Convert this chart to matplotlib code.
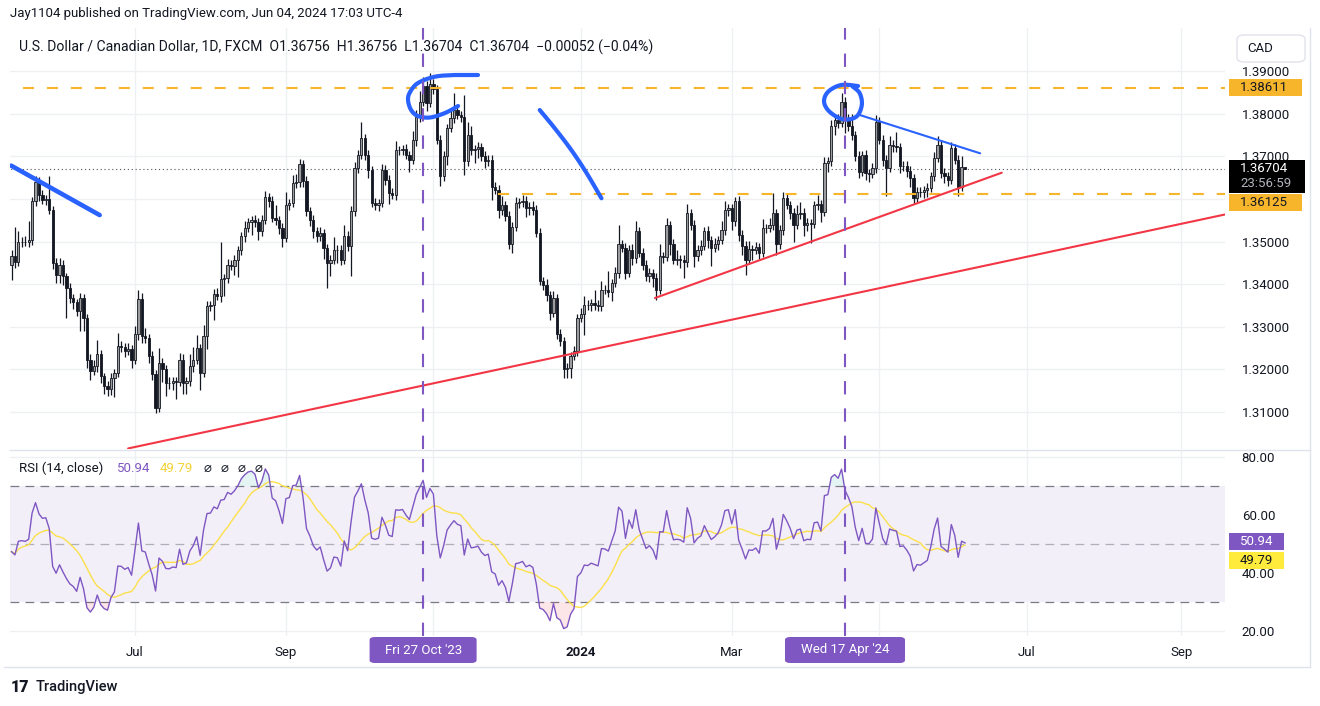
import numpy as np
import pandas as pd
import matplotlib
matplotlib.use('Agg')
import matplotlib.pyplot as plt
from matplotlib.patches import Rectangle, FancyBboxPatch
from matplotlib.lines import Line2D

plt.rcParams['font.family'] = ['Roboto', 'DejaVu Sans']

# ---- daily closes USD/CAD, last bar = Jun 05 2024 ----
close = [
    1.3465, 1.3453, 1.3498, 1.3500, 1.3498, 1.3504, 1.3594, 1.3639, 1.3610, 1.3598,
    1.3600, 1.3573, 1.3450, 1.3422, 1.3446, 1.3418, 1.3391, 1.3368, 1.3357, 1.3336,
    1.3368, 1.3321, 1.3223, 1.3196, 1.3207, 1.3235, 1.3184, 1.3162, 1.3153, 1.3180,
    1.3192, 1.3254, 1.3253, 1.3243, 1.3247, 1.3223, 1.3282, 1.3365, 1.3278, 1.3274,
    1.3231, 1.3188, 1.3110, 1.3215, 1.3200, 1.3168, 1.3167, 1.3172,
    1.3170, 1.3223, 1.3168, 1.3172, 1.3207, 1.3223, 1.3250, 1.3192, 1.3278, 1.3348,
    1.3350, 1.3378, 1.3373, 1.3411, 1.3414, 1.3446, 1.3442, 1.3457, 1.3479, 1.3512,
    1.3532, 1.3546, 1.3550, 1.3545, 1.3524, 1.3550, 1.3604, 1.3594, 1.3555, 1.3550,
    1.3532, 1.3508, 1.3586, 1.3590, 1.3637, 1.3639, 1.3682, 1.3641, 1.3571, 1.3551,
    1.3524, 1.3512, 1.3520, 1.3485, 1.3450, 1.3457, 1.3481, 1.3479, 1.3457, 1.3514,
    1.3489, 1.3571, 1.3672, 1.3703, 1.3742, 1.3703, 1.3668, 1.3590, 1.3586, 1.3590,
    1.3668, 1.3645, 1.3614, 1.3610, 1.3715, 1.3714, 1.3717, 1.3703, 1.3692, 1.3739,
    1.3793, 1.3828, 1.3865, 1.3826, 1.3870, 1.3857, 1.3739, 1.3653, 1.3700, 1.3766,
    1.3789, 1.3809, 1.3797, 1.3793, 1.3688, 1.3750, 1.3715, 1.3717, 1.3721, 1.3700,
    1.3688, 1.3692, 1.3629, 1.3621, 1.3575, 1.3586, 1.3559, 1.3493, 1.3535, 1.3590,
    1.3592, 1.3596, 1.3578, 1.3582, 1.3575, 1.3520, 1.3407, 1.3399, 1.3375, 1.3332,
    1.3368, 1.3282, 1.3266, 1.3200, 1.3204, 1.3231, 1.3243, 1.3321, 1.3331, 1.3352,
    1.3350, 1.3356,
    1.3352, 1.3348, 1.3387, 1.3386, 1.3381, 1.3403, 1.3426, 1.3493, 1.3485, 1.3426,
    1.3481, 1.3461, 1.3524, 1.3473, 1.3446, 1.3418, 1.3426, 1.3414, 1.3387, 1.3465,
    1.3464, 1.3539, 1.3493, 1.3457, 1.3459, 1.3457, 1.3451, 1.3567, 1.3539, 1.3465,
    1.3481, 1.3489, 1.3524, 1.3504, 1.3485, 1.3493, 1.3504, 1.3528, 1.3575, 1.3578,
    1.3547, 1.3594, 1.3516, 1.3489, 1.3457, 1.3482, 1.3481, 1.3487, 1.3473, 1.3532,
    1.3532, 1.3539, 1.3567, 1.3493, 1.3528, 1.3602, 1.3586, 1.3567, 1.3539, 1.3565,
    1.3568, 1.3539, 1.3543, 1.3542, 1.3586, 1.3588, 1.3570, 1.3684, 1.3688, 1.3770,
    1.3785, 1.3778, 1.3828, 1.3785, 1.3770, 1.3750, 1.3700, 1.3664, 1.3703, 1.3660,
    1.3659, 1.3672, 1.3781, 1.3739, 1.3692, 1.3672, 1.3727, 1.3723, 1.3721, 1.3676,
    1.3678, 1.3666, 1.3649, 1.3602, 1.3617, 1.3615, 1.3620,
    1.3625, 1.3653, 1.3696, 1.3727, 1.3660, 1.3653, 1.3645, 1.3719, 1.3692, 1.3629,
    1.36756, 1.36704,
]
first_open = 1.3445

# wick lengths above / below the body, in pips
upper_wick = [
    16, 70, 26, 10, 12, 43, 10, 14, 12, 10,
    8, 53, 10, 12, 15, 10, 8, 12, 10, 8,
    12, 10, 10, 12, 15, 35, 10, 8, 10, 12,
    10, 31, 12, 10, 15, 10, 20, 22, 15, 18,
    10, 12, 10, 35, 12, 10, 15, 10,
    10, 15, 12, 10, 30, 30, 30, 10, 25, 12,
    10, 10, 12, 88, 10, 12, 10, 12, 10, 10,
    15, 10, 10, 12, 10, 12, 15, 10, 12, 30,
    10, 12, 30, 10, 20, 20, 11, 10, 12, 10,
    12, 10, 15, 10, 10, 12, 30, 10, 12, 25,
    10, 12, 15, 12, 39, 10, 12, 10, 12, 10,
    15, 12, 10, 12, 20, 10, 10, 12, 10, 20,
    15, 25, 20, 12, 25, 12, 10, 10, 12, 10,
    20, 40, 12, 10, 51, 30, 20, 10, 12, 10,
    12, 10, 12, 10, 12, 20, 10, 12, 10, 15,
    10, 12, 10, 10, 12, 10, 12, 10, 12, 10,
    15, 10, 12, 10, 12, 10, 12, 10, 12, 20,
    10, 10,
    30, 10, 20, 10, 45, 10, 15, 45, 10, 12,
    10, 12, 25, 10, 12, 10, 12, 10, 12, 30,
    10, 15, 10, 12, 20, 10, 12, 20, 10, 12,
    10, 15, 10, 12, 10, 15, 10, 20, 20, 10,
    10, 10, 12, 10, 12, 20, 10, 12, 10, 20,
    10, 15, 47, 10, 10, 15, 12, 10, 12, 20,
    25, 10, 12, 10, 10, 20, 10, 15, 10, 15,
    12, 15, 20, 10, 15, 30, 10, 12, 10, 12,
    10, 12, 15, 10, 12, 10, 20, 10, 35, 10,
    12, 10, 12, 10, 10, 12, 10,
    12, 10, 15, 20, 10, 12, 10, 15, 10, 12,
    25, 0,
]
lower_wick = [
    35, 15, 10, 12, 8, 10, 12, 10, 15, 10,
    12, 8, 15, 20, 20, 20, 70, 12, 15, 10,
    47, 30, 20, 20, 10, 12, 15, 20, 16, 12,
    45, 10, 12, 15, 10, 20, 10, 12, 15, 12,
    15, 12, 12, 10, 30, 30, 12, 15,
    40, 10, 25, 25, 10, 12, 10, 40, 10, 30,
    12, 35, 10, 15, 40, 12, 10, 20, 40, 10,
    12, 10, 30, 10, 20, 12, 10, 12, 10, 12,
    15, 20, 10, 12, 10, 12, 10, 12, 10, 15,
    15, 12, 10, 25, 60, 30, 10, 30, 12, 10,
    12, 70, 10, 12, 10, 12, 20, 10, 12, 15,
    10, 12, 25, 10, 12, 10, 12, 10, 30, 10,
    15, 12, 10, 20, 10, 12, 10, 23, 12, 20,
    10, 12, 10, 12, 32, 10, 12, 30, 20, 10,
    15, 12, 31, 10, 20, 12, 10, 10, 20, 10,
    12, 10, 20, 15, 12, 10, 10, 12, 15, 15,
    10, 10, 12, 20, 20, 25, 10, 12, 10, 50,
    10, 12,
    12, 10, 12, 10, 12, 20, 10, 12, 10, 15,
    10, 15, 12, 10, 12, 10, 12, 20, 25, 10,
    15, 10, 25, 10, 12, 20, 37, 10, 12, 25,
    10, 12, 10, 20, 43, 10, 12, 10, 12, 15,
    20, 10, 15, 20, 35, 10, 25, 10, 15, 10,
    12, 10, 12, 25, 10, 12, 10, 15, 40, 10,
    12, 25, 15, 45, 10, 12, 25, 10, 20, 10,
    20, 12, 10, 30, 10, 12, 10, 15, 10, 15,
    20, 10, 12, 10, 15, 66, 10, 12, 10, 15,
    10, 15, 20, 15, 10, 10, 12,
    15, 10, 12, 10, 10, 15, 15, 10, 10, 23,
    10, 0,
]
last_day = '2024-06-05'

# RSI averages carried in from before the visible window (estimated)
rsi_seed_gain = 0.0018
rsi_seed_loss = 0.0020

price_ticks = [1.31, 1.32, 1.33, 1.34, 1.35, 1.36, 1.37, 1.38, 1.39]
rsi_ticks = [20, 40, 60, 80]
months = ['2023-07', '2023-09', '2023-11', '2024-01', '2024-03', '2024-05', '2024-07', '2024-09']
month_text = ['Jul', 'Sep', '', '2024', 'Mar', '', 'Jul', 'Sep']
marked_days = ['2023-10-27', '2024-04-17']
marked_text = ["Fri 27 Oct '23", "Wed 17 Apr '24"]
marked_width_px = [107, 120]

header = ('U.S. Dollar / Canadian Dollar, 1D, FXCM  O1.36756  H1.36756  L1.36704  C1.36704  '
          '\u22120.00052 (\u22120.04%)')

level_high = 1.38611
level_low = 1.36125
level_low_from = 141.8
last_price = 1.36704
countdown = '23:56:59'
rsi_last, rsi_ma_last = 50.94, 49.79

# hand drawings: (bar, price) anchors
blue_line_left = [(-0.1, 1.3678), (25.7, 1.3562)]
blue_oval_oct = [(136.0, 1.38906), (129.3, 1.38906), (123.4, 1.38866), (118.5, 1.38718),
                 (116.2, 1.38507), (115.6, 1.38320), (116.5, 1.38085), (118.5, 1.37944),
                 (122.0, 1.37909), (126.4, 1.38015), (130.2, 1.38179)]
blue_arc = [(154.0, 1.38085), (158.4, 1.37655), (163.2, 1.37147), (167.6, 1.36614), (172.0, 1.36014)]
blue_oval_apr = [(246.8, 1.38648), (241.9, 1.38672), (238.1, 1.38514), (236.9, 1.38280),
                 (238.5, 1.38045), (242.4, 1.37867), (246.3, 1.37928), (247.9, 1.38202),
                 (247.3, 1.38477), (245.3, 1.38632)]
blue_upper_trend = [(247.3, 1.37968), (282.4, 1.37069)]
red_long_trend = [(34.0, 1.30145), (353.8, 1.35634)]
red_short_trend = [(187.6, 1.33674), (288.7, 1.36614)]

assert len(close) == len(upper_wick) == len(lower_wick), (len(close), len(upper_wick), len(lower_wick))

# ---- derived ----
close = np.array(close)
n = len(close)
opens = np.r_[first_open, close[:-1]]
high = np.maximum(opens, close) + np.array(upper_wick) * 1e-4
low = np.minimum(opens, close) - np.array(lower_wick) * 1e-4
x = np.arange(n)
dates = pd.bdate_range(end=last_day, periods=n)
cal = pd.bdate_range(start=dates[0], periods=n + 90)
cal_ym = cal.strftime('%Y-%m')
month_pos = [int(np.argmax(cal_ym == m)) for m in months]
marked_pos = [cal.get_loc(pd.Timestamp(d)) for d in marked_days]

# RSI(14) with Wilder smoothing + its 14 SMA
g, l = rsi_seed_gain, rsi_seed_loss
rsi = np.empty(n)
rsi[0] = 100 - 100 / (1 + g / l)
for i in range(1, n):
    d = close[i] - close[i - 1]
    g = (g * 13 + max(d, 0)) / 14
    l = (l * 13 + max(-d, 0)) / 14
    rsi[i] = 100 - 100 / (1 + g / l)
rsi_ma = pd.Series(rsi).rolling(14, min_periods=1).mean().values


def smooth(pts, k=14):
    # catmull-rom through the stroke anchors
    pts = np.asarray(pts, float)
    P = np.vstack([pts[0], pts, pts[-1]])
    out = []
    t = np.linspace(0, 1, k, endpoint=False)[:, None]
    for i in range(1, len(P) - 2):
        p0, p1, p2, p3 = P[i - 1], P[i], P[i + 1], P[i + 2]
        out.append(0.5 * (2 * p1 + (-p0 + p2) * t + (2 * p0 - 5 * p1 + 4 * p2 - p3) * t ** 2
                          + (-p0 + 3 * p1 - 3 * p2 + p3) * t ** 3))
    out.append(P[-2][None])
    return np.vstack(out)


# ---- figure ----
W, H = 1320, 706
fig = plt.figure(figsize=(W / 100, H / 100), dpi=100)
fig.patch.set_facecolor('white')
TXT = '#131722'
GRID = '#eef0f4'
PURPLE = '#7e57c2'
ORANGE = '#f7b52c'
BLUE = '#2962ff'
RED = '#f23645'


def fx(px):
    return px / W


def fy(py):
    return 1 - py / H


ax_p = fig.add_axes([fx(10), fy(449), 1215 / W, 421 / H])
ax_r = fig.add_axes([fx(10), fy(636), 1215 / W, 186 / H], sharex=ax_p)

xmin, xmax = (10 - 11.5) / 3.43, (1225 - 11.5) / 3.43
ax_p.set_xlim(xmin, xmax)
ax_p.set_ylim(1.30132, 1.40009)
ax_r.set_ylim(18.3, 82.4)

for ax in (ax_p, ax_r):
    for s in ax.spines.values():
        s.set_visible(False)
    ax.grid(True, color=GRID, lw=1)
    ax.set_axisbelow(True)
    ax.yaxis.tick_right()
    ax.tick_params(axis='y', length=0, pad=12, labelsize=9.5, colors=TXT)
    ax.tick_params(axis='x', length=0)

ax_p.set_yticks(price_ticks, [f'{v:.5f}' for v in price_ticks])
ax_r.set_yticks(rsi_ticks, [f'{v:.2f}' for v in rsi_ticks])
ax_r.set_xticks(month_pos, month_text)
ax_p.tick_params(labelbottom=False)
ax_r.tick_params(axis='x', pad=7, labelsize=9.5, colors=TXT)
for lab in ax_r.get_xticklabels():
    if lab.get_text() == '2024':
        lab.set_fontweight('bold')

# candles
up = close >= opens
ax_p.vlines(x, low, high, color=TXT, lw=0.9, zorder=2)
ax_p.bar(x[up], (close - opens)[up], bottom=opens[up], width=0.66,
         color='#9c9c9c', edgecolor=TXT, linewidth=0.6, zorder=3)
ax_p.bar(x[~up], (opens - close)[~up], bottom=close[~up], width=0.66,
         color=TXT, edgecolor=TXT, linewidth=0.6, zorder=3)

# horizontal levels
ax_p.plot([xmin - 5, xmax + 5], [level_high, level_high], color=ORANGE, lw=1.5, dashes=(5.3, 6.2), zorder=4)
ax_p.plot([level_low_from, xmax + 5], [level_low, level_low], color=ORANGE, lw=1.5, dashes=(5.3, 6.2), zorder=4)
ax_p.plot([xmin - 5, xmax + 5], [last_price, last_price], color='#50535e', lw=0.8, dashes=(1, 2.5), zorder=1)

# trend lines and drawings
for pts, c in [(red_long_trend, RED), (red_short_trend, RED), (blue_upper_trend, BLUE)]:
    xs, ys = zip(*pts)
    ax_p.plot(xs, ys, color=c, lw=1.5, zorder=5, solid_capstyle='round')
xs, ys = zip(*blue_line_left)
ax_p.plot(xs, ys, color=BLUE, lw=3.3, zorder=6, solid_capstyle='round')
for pts in (blue_oval_oct, blue_arc, blue_oval_apr):
    s = smooth(pts)
    ax_p.plot(s[:, 0], s[:, 1], color=BLUE, lw=3.0, zorder=6, solid_capstyle='round', solid_joinstyle='round')

# marked dates
for ax in (ax_p, ax_r):
    for p in marked_pos:
        ax.axvline(p, color=PURPLE, lw=1.5, dashes=(6.4, 6.7), zorder=7)

# RSI pane
ax_r.axhspan(30, 70, color=PURPLE, alpha=0.09, lw=0, zorder=0)
for lvl, a in [(70, 1.0), (50, 0.55), (30, 1.0)]:
    ax_r.axhline(lvl, color='#787b86', lw=0.9, dashes=(7, 5), alpha=a, zorder=1)
ax_r.fill_between(x, rsi, 70, where=rsi > 70, interpolate=True, color='#26a69a', alpha=0.12, lw=0)
ax_r.fill_between(x, rsi, 30, where=rsi < 30, interpolate=True, color='#f23645', alpha=0.12, lw=0)
ax_r.plot(x, rsi_ma, color='#fbe04a', lw=1.0, zorder=3)
ax_r.plot(x, rsi, color=PURPLE, lw=1.0, zorder=4)


# ---- axis tags ----
def ypix(ax, v):
    return ax.transData.transform((0, v))[1]


def box(x0, x1, yc, h, fc, rounded=False):
    if rounded:
        fig.add_artist(FancyBboxPatch((x0 / W, (yc - h / 2) / H), (x1 - x0) / W, h / H,
                                      boxstyle='round,pad=0,rounding_size=0.004',
                                      transform=fig.transFigure, fc=fc, ec='none', zorder=5))
    else:
        fig.add_artist(Rectangle((x0 / W, (yc - h / 2) / H), (x1 - x0) / W, h / H,
                                 transform=fig.transFigure, fc=fc, ec='none', zorder=5))


def tag_text(yc, s, c):
    fig.text(1240 / W, yc / H, s, color=c, va='center', ha='left', fontsize=9.5, zorder=6)


yc = ypix(ax_p, level_high)
box(1229, 1302, yc, 17, ORANGE)
tag_text(yc, f'{level_high:.5f}', TXT)

yc = ypix(ax_p, last_price)
box(1229, 1305, yc - 7.5, 33, '#000000')
tag_text(yc, f'{last_price:.5f}', 'white')
tag_text(yc - 15, countdown, '#b2b5be')
# the lower tag is pushed below the last-price tag
yc = yc - 7.5 - 16.5 - 9.5
box(1229, 1302, yc, 17, ORANGE)
tag_text(yc, f'{level_low:.5f}', TXT)

yc = ypix(ax_r, rsi_last)
box(1229, 1284, yc, 17, PURPLE)
tag_text(yc, f'{rsi_last:.2f}', 'white')
box(1229, 1284, yc - 19, 17, '#ffeb3b')
tag_text(yc - 19, f'{rsi_ma_last:.2f}', TXT)

# date crosshair labels
for p, t, wpx in zip(marked_pos, marked_text, marked_width_px):
    xc = ax_r.transData.transform((p, 0))[0]
    box(xc - wpx / 2, xc + wpx / 2, H - 650, 26, PURPLE, rounded=True)
    fig.text(xc / W, fy(650), t, color='white', ha='center', va='center', fontsize=9.5, zorder=8)

# ---- texts ----
fig.text(fx(10), fy(13), 'Jay1104 published on TradingView.com, Jun 04, 2024 17:03 UTC-4',
         color=TXT, fontsize=9.5, va='center', ha='left')
fig.text(fx(19), fy(47), header, color=TXT, fontsize=10.1, va='center', ha='left', zorder=9)

fig.text(fx(19), fy(468), 'RSI (14, close)', color=TXT, fontsize=9.5, va='center', ha='left', zorder=9)
fig.text(fx(117), fy(468), f'{rsi_last:.2f}', color=PURPLE, fontsize=9.5, va='center', ha='left', zorder=9)
fig.text(fx(160), fy(468), f'{rsi_ma_last:.2f}', color='#f2d335', fontsize=9.5, va='center', ha='left', zorder=9)
for px in (204, 221, 238, 255):
    fig.text(fx(px), fy(468), '\u2300', color=TXT, fontsize=9.5, va='center', ha='left', zorder=9)

fig.add_artist(FancyBboxPatch((fx(1237), fy(62)), 68 / W, 27 / H, boxstyle='round,pad=0,rounding_size=0.006',
                              transform=fig.transFigure, fc='white', ec='#e0e3eb', lw=1))
fig.text(fx(1247), fy(48.5), 'CAD', color=TXT, fontsize=9.5, va='center', ha='left')

# frame
for (x0, y0, x1, y1) in [(10, 449.5, 1310, 449.5), (4, 667, 1310, 667), (1310, 28, 1310, 667)]:
    fig.add_artist(Line2D([fx(x0), fx(x1)], [fy(y0), fy(y1)], color='#e0e3eb', lw=1, transform=fig.transFigure))

fig.text(fx(11), fy(687), '17', color=TXT, fontsize=11.5, fontweight='black', va='center', ha='left')
fig.text(fx(36), fy(687), 'TradingView', color=TXT, fontsize=10.5, fontweight='medium', va='center', ha='left')

fig.savefig('out.png', dpi=100)
